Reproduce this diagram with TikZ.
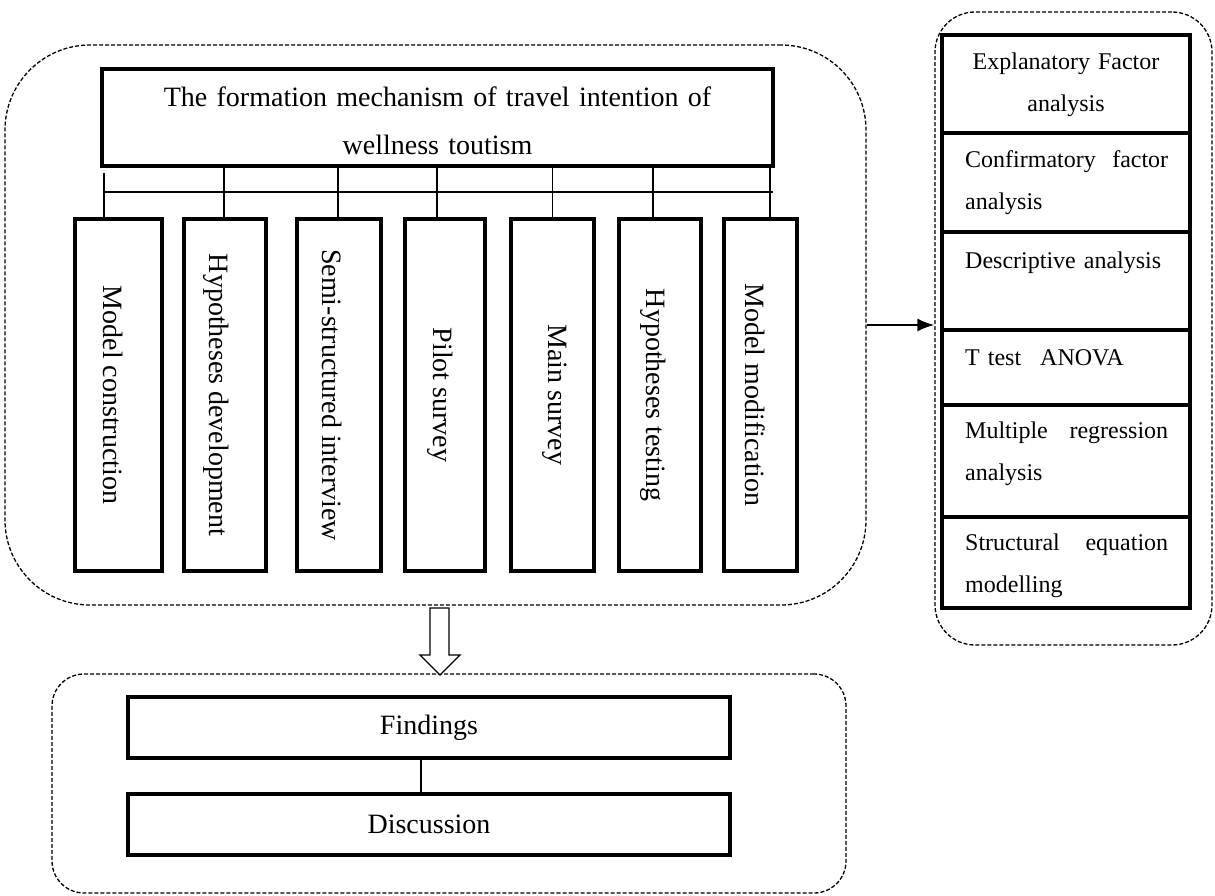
\documentclass[tikz,border=0pt]{standalone}
\usepackage{fontspec}
\setmainfont{Liberation Serif}
\usetikzlibrary{arrows.meta}
\begin{document}
\begin{tikzpicture}[x=1pt,y=-1pt,
  frame/.style={draw, line width=4pt, rectangle, inner sep=0pt},
  group/.style={draw, line width=1.3pt, dash pattern=on 4pt off 2pt, rectangle, inner sep=0pt},
  link/.style={line width=1.2pt},
  bigtext/.style={font=\fontsize{28}{48}\selectfont, inner sep=0pt},
  cell/.style={font=\fontsize{24}{42}\selectfont, inner sep=0pt, text width=203pt, align=left, anchor=base west},
  vtext/.style={font=\fontsize{28}{34}\selectfont, inner sep=0pt, rotate=-90, anchor=base},
]
\useasboundingbox (0,0) rectangle (1215,896);

% dashed group frames
\node[group, rounded corners=85pt, minimum width=861pt, minimum height=560pt] (grpA) at (435.5,325) {};
\node[group, rounded corners=40pt, minimum width=277pt, minimum height=633pt] (grpB) at (1073.5,328.5) {};
\node[group, rounded corners=32pt, minimum width=794pt, minimum height=219pt] (grpC) at (449,783.5) {};

% title box
\node[frame, minimum width=671pt, minimum height=97pt] (head) at (437.5,117.5) {};
\node[bigtext, text width=660pt, align=center, anchor=base] (headtxt) at (437.5,107)
  {The formation mechanism of travel intention of\\wellness toutism};

% research steps
\node[frame, minimum width=87pt, minimum height=352pt] (b1) at (118.5,395) {};
\node[frame, minimum width=82pt, minimum height=352pt] (b2) at (225,395) {};
\node[frame, minimum width=84pt, minimum height=352pt] (b3) at (339,395) {};
\node[frame, minimum width=80pt, minimum height=352pt] (b4) at (445,395) {};
\node[frame, minimum width=83pt, minimum height=352pt] (b5) at (552.5,395) {};
\node[frame, minimum width=82pt, minimum height=352pt] (b6) at (660,395) {};
\node[frame, minimum width=73pt, minimum height=352pt] (b7) at (760.5,395) {};

\node[vtext] (t1) at ([xshift=-15.5pt]b1.center) {Model construction};
\node[vtext] (t2) at ([xshift=-16pt]b2.center) {Hypotheses development};
\node[vtext] (t3) at ([xshift=-17pt]b3.center) {Semi-structured interview};
\node[vtext] (t4) at ([xshift=-12pt]b4.center) {Pilot survey};
\node[vtext] (t5) at ([xshift=-4.5pt]b5.center) {Main survey};
\node[vtext] (t6) at ([xshift=-14pt]b6.center) {Hypotheses testing};
\node[vtext] (t7) at ([xshift=-15.5pt]b7.center) {Model modification};

% bus connecting the title to the steps
\coordinate (busL) at (105,192);
\coordinate (busR) at (773,192);
\draw[link] (busL) -- (busR);
\draw[link] ([xshift=-14.5pt]b1.north) -- ([xshift=-14.5pt, yshift=-5pt]b1.north |- head.south);
\draw[link] ([xshift=-1pt]b2.north) -- ([xshift=-1pt]b2.north |- head.south);
\draw[link] ([xshift=-1pt]b3.north) -- ([xshift=-1pt]b3.north |- head.south);
\draw[link] ([xshift=-8pt]b4.north) -- ([xshift=-8pt]b4.north |- head.south);
\draw[link] (b5.north) -- (b5.north |- head.south);
\draw[link] ([xshift=-7pt]b6.north) -- ([xshift=-7pt]b6.north |- head.south);
\draw[link] ([xshift=9.5pt]b7.north) -- ([xshift=9.5pt]b7.north |- head.south);

% analysis methods
\node[frame, minimum width=248pt, minimum height=98pt]  (r1) at (1066,84) {};
\node[frame, minimum width=248pt, minimum height=99pt]  (r2) at (1066,182.5) {};
\node[frame, minimum width=248pt, minimum height=98pt]  (r3) at (1066,281) {};
\node[frame, minimum width=248pt, minimum height=75pt]  (r4) at (1066,367.5) {};
\node[frame, minimum width=248pt, minimum height=112pt] (r5) at (1066,461) {};
\node[frame, minimum width=248pt, minimum height=91pt]  (r6) at (1066,562.5) {};

\node[cell, text width=220pt, align=center, anchor=base] (c1) at (1066,70) {Explanatory Factor\\analysis};
\node[cell] (c2) at (965,168) {Confirmatory\hfill factor\\analysis};
\node[cell] (c3) at (965,268) {Descriptive analysis};
\node[cell] (c4) at (965,365) {T test\hspace{19pt}ANOVA};
\node[cell] (c5) at (965,438) {Multiple\hfill regression\\analysis};
\node[cell] (c6) at (965,550) {Structural\hfill equation\\modelling};

\draw[line width=2pt, -{Latex[length=17pt,width=13pt]}] (grpA.east) -- (grpA.east -| grpB.west);

% hollow block arrow down to the results
\draw[line width=1.3pt, fill=white] (430,608) -- (449,608) -- (449,655) -- (460,655)
  -- (440,675) -- (420,655) -- (430,655) -- cycle;

% results
\node[frame, bigtext, minimum width=602pt, minimum height=61pt] (find) at (429,727.5) {Findings};
\node[frame, bigtext, minimum width=602pt, minimum height=61pt] (disc) at (429,824.5) {Discussion};
\draw[link] ([xshift=-8pt]find.south) -- ([xshift=-8pt]disc.north);

\end{tikzpicture}
\end{document}
